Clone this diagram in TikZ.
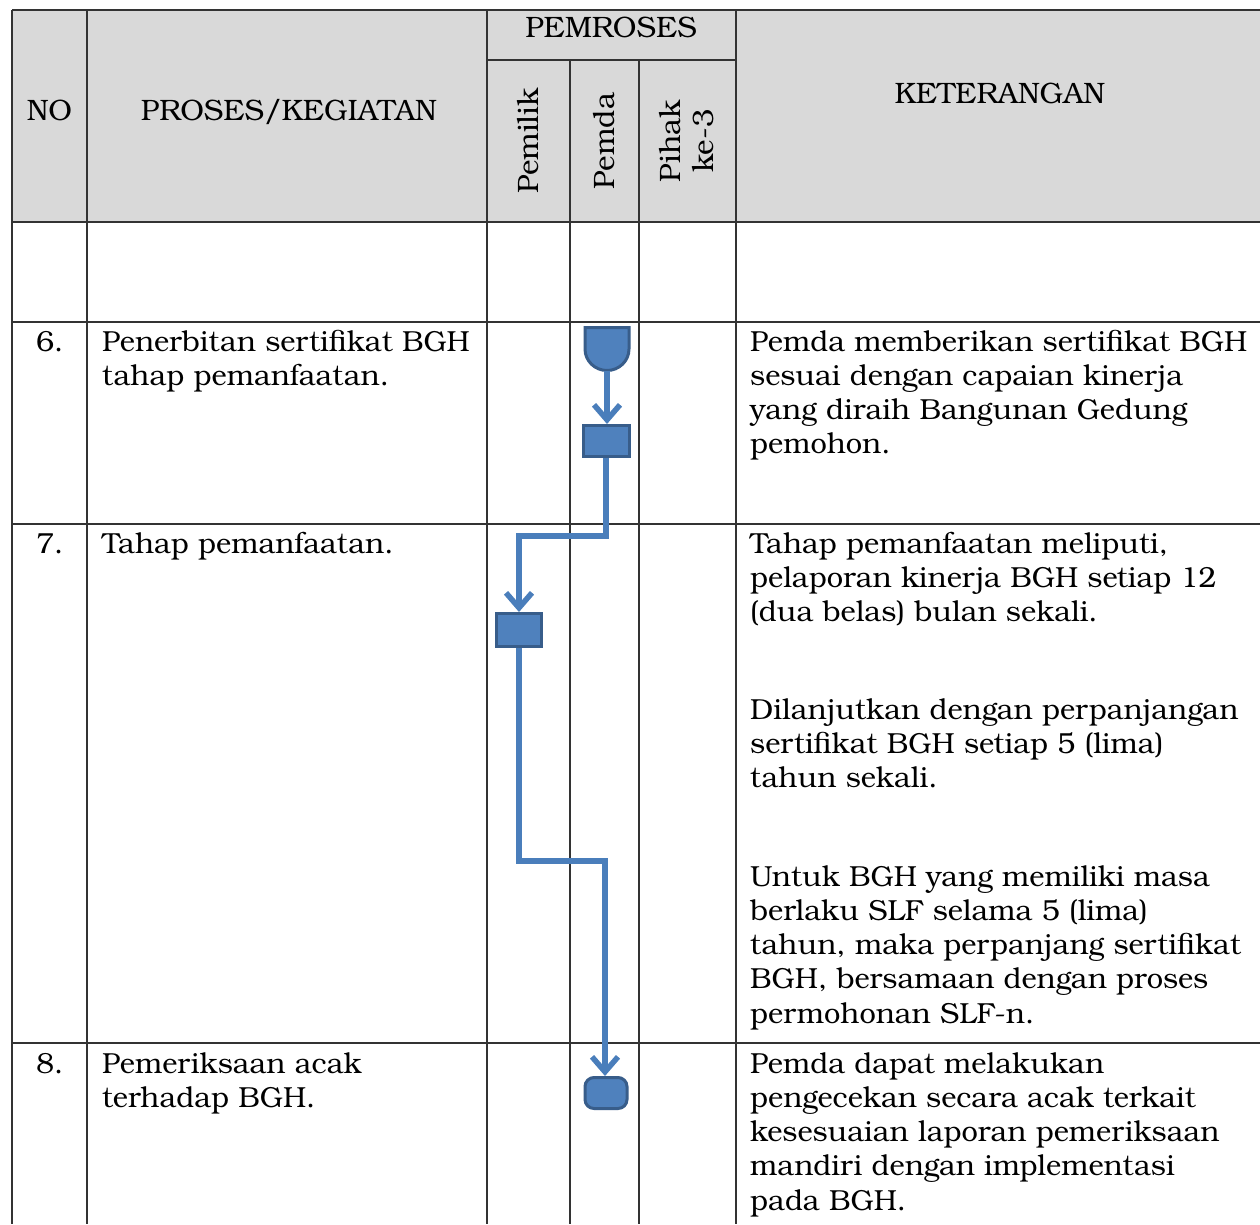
\documentclass[tikz,border=0pt]{standalone}
\usepackage{fontspec}
\setmainfont{texgyrebonum}[Extension=.otf,UprightFont=*-regular,BoldFont=*-bold]
\usetikzlibrary{arrows.meta}
\definecolor{hdr}{HTML}{D9D9D9}
\definecolor{gridc}{HTML}{333333}
\definecolor{shpfill}{HTML}{4F81BD}
\definecolor{shpline}{HTML}{385D8A}
\definecolor{connc}{HTML}{4A7EBB}
\newcommand\tline[1]{\hbox{#1}}
\begin{document}
\begin{tikzpicture}[x=1pt,y=-1pt,
  txt/.style={anchor=base west,inner sep=0pt,font=\fontsize{29}{34.3}\selectfont},
  hd/.style={anchor=base,inner sep=0pt,font=\fontsize{29.5}{34.3}\selectfont},
  vhd/.style={rotate=90,inner sep=0pt,align=center,font=\fontsize{29.5}{33}\selectfont},
  gridl/.style={draw=gridc,line width=1.5pt},
  shp/.style={fill=shpfill,draw=shpline,line width=3pt},
  ghost/.style={inner sep=0pt,outer sep=0pt,draw=none},
  conn/.style={draw=connc,line width=5.5pt,-{Straight Barb[length=15pt,width=26pt]}}]
\useasboundingbox (0,0) rectangle (1260,1224);
\fill[white] (0,0) rectangle (1260,1224);
% header background
\fill[hdr] (12,10) rectangle (1260,222);
% grid
\draw[gridl] (12,10) -- (1260,10);
\draw[gridl] (487,60) -- (736,60);
\draw[gridl] (12,222) -- (1260,222);
\draw[gridl] (12,322) -- (1260,322);
\draw[gridl] (12,524) -- (1260,524);
\draw[gridl] (12,1043) -- (1260,1043);
\draw[gridl] (12,10) -- (12,1224);
\draw[gridl] (87,10) -- (87,1224);
\draw[gridl] (487,10) -- (487,1224);
\draw[gridl] (570,60) -- (570,1224);
\draw[gridl] (639,60) -- (639,1224);
\draw[gridl] (736,10) -- (736,1224);
% header texts
\node[hd] (hno) at (49.5,120) {NO};
\node[hd] (hproc) at (289,120) {PROSES/KEGIATAN};
\node[hd] (hpem) at (611,37) {PEMROSES};
\node[hd] (hket) at (1000,103) {KETERANGAN};
\node[vhd] (hpemilik) at (528,141) {Pemilik};
\node[vhd] (hpemda) at (604,141) {Pemda};
\node[vhd] (hpihak) at (687,141) {Pihak\\ke-3};
% row 6
\node[txt] (n6) at (36,351) {6.};
\node[txt] (p6) at (102,351) {\vtop{\tline{Penerbitan sertifikat BGH}\tline{tahap pemanfaatan.}}};
\node[txt] (k6) at (750,351) {\vtop{\tline{Pemda memberikan sertifikat BGH}\tline{sesuai dengan capaian kinerja}\tline{yang diraih Bangunan Gedung}\tline{pemohon.}}};
% row 7
\node[txt] (n7) at (36,553) {7.};
\node[txt] (p7) at (102,553) {Tahap pemanfaatan.};
\node[txt] (k7a) at (750,553) {\vtop{\tline{Tahap pemanfaatan meliputi,}\tline{pelaporan kinerja BGH setiap 12}\tline{(dua belas) bulan sekali.}}};
\node[txt] (k7b) at (750,719) {\vtop{\tline{Dilanjutkan dengan perpanjangan}\tline{sertifikat BGH setiap 5 (lima)}\tline{tahun sekali.}}};
\node[txt] (k7c) at (750,886) {\vtop{\tline{Untuk BGH yang memiliki masa}\tline{berlaku SLF selama 5 (lima)}\tline{tahun, maka perpanjang sertifikat}\tline{BGH, bersamaan dengan proses}\tline{permohonan SLF-n.}}};
% row 8
\node[txt] (n8) at (36,1073) {8.};
\node[txt] (p8) at (102,1073) {\vtop{\tline{Pemeriksaan acak}\tline{terhadap BGH.}}};
\node[txt] (k8) at (750,1073) {\vtop{\tline{Pemda dapat melakukan}\tline{pengecekan secara acak terkait}\tline{kesesuaian laporan pemeriksaan}\tline{mandiri dengan implementasi}\tline{pada BGH.}}};
% flow shapes
\node[ghost,minimum width=44pt,minimum height=43pt] (s1) at (607,349) {};
\draw[shp] (s1.north west) -- (s1.north east) -- ++(0,21.5)
  .. controls +(0,12) and +(12,0) .. (s1.south)
  .. controls +(-12,0) and +(0,12) .. ([yshift=-21.5pt]s1.north west) -- cycle;
\node[shp,minimum width=46pt,minimum height=31pt,inner sep=0pt] (r1) at (606,441) {};
\node[shp,minimum width=45pt,minimum height=33pt,inner sep=0pt] (r2) at (519,630) {};
\node[shp,minimum width=42pt,minimum height=31pt,inner sep=0pt,rounded corners=9pt] (t1) at (606,1093) {};
\coordinate (k1) at (519,536);
\coordinate (k2) at (605,861);
% connectors
\draw[conn] (s1.south) -- (s1.south |- r1.north);
\draw[conn] (r1.south) |- (k1) -- (r2.north);
\draw[conn] (r2.south) |- (k2) -- (k2 |- t1.north);
\end{tikzpicture}
\end{document}
